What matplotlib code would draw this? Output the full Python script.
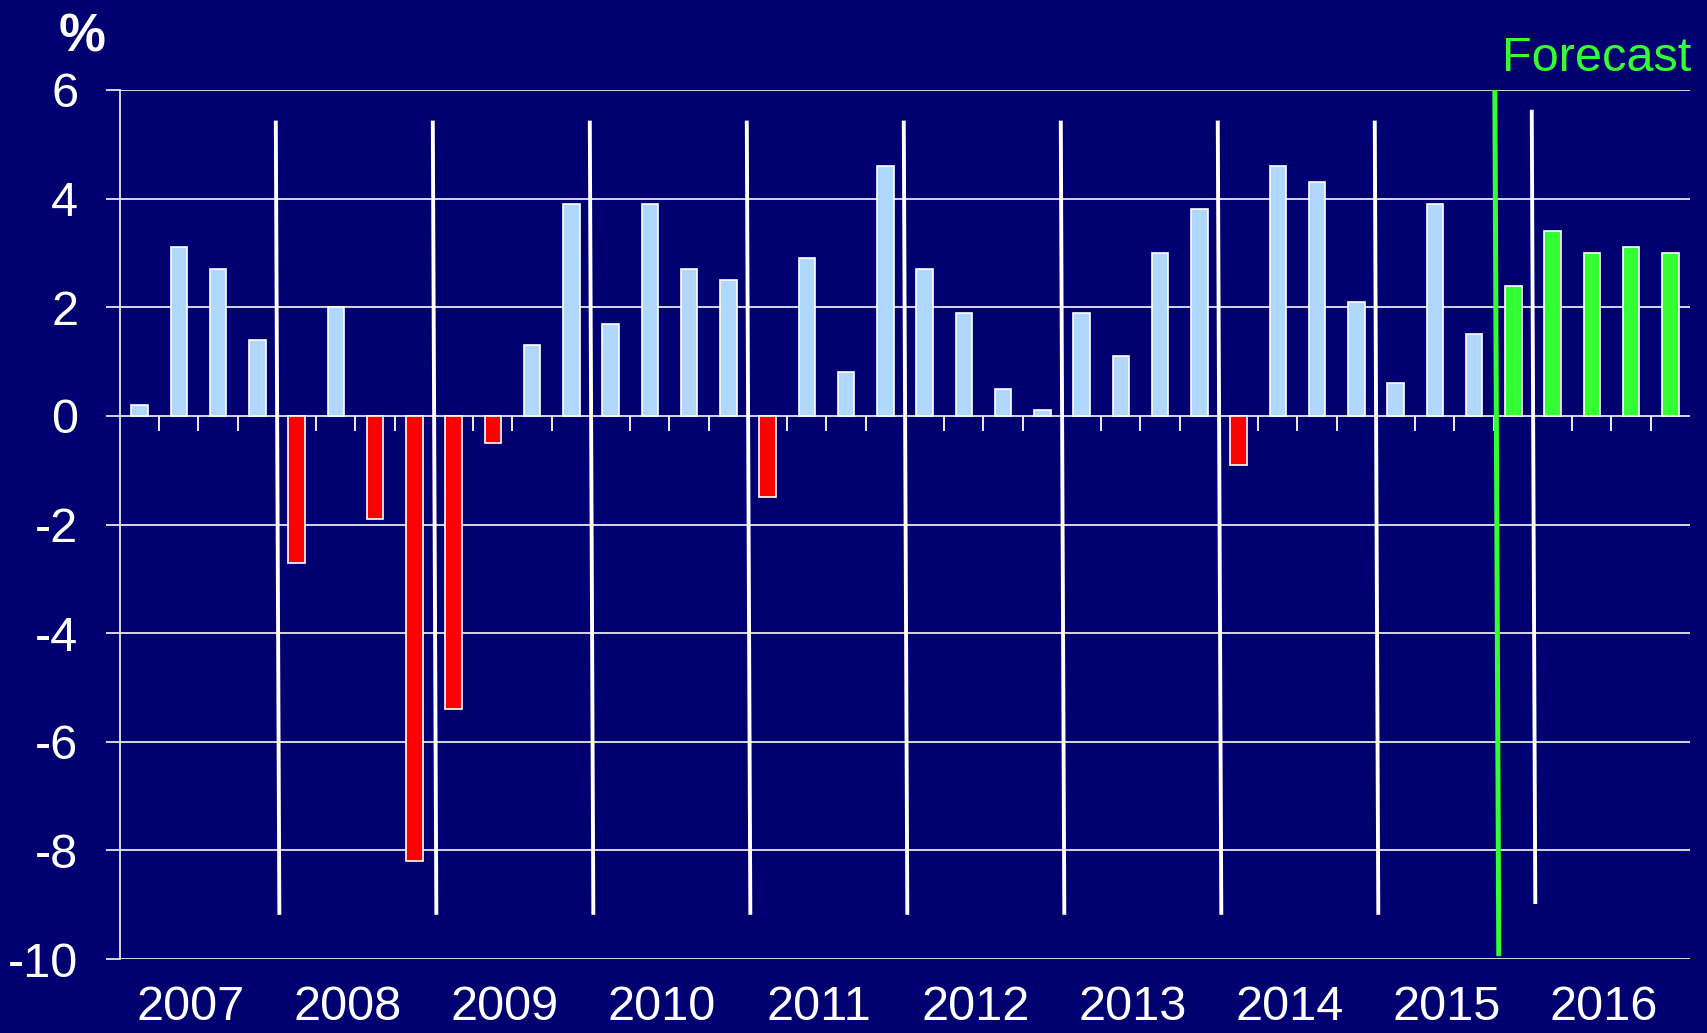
import matplotlib.pyplot as plt

# quarterly GDP growth, % (annualised), 2007 Q1 - 2016 Q4
years = ['2007', '2008', '2009', '2010', '2011', '2012', '2013', '2014', '2015', '2016']
growth = [0.2, 3.1, 2.7, 1.4,
          -2.7, 2.0, -1.9, -8.2,
          -5.4, -0.5, 1.3, 3.9,
          1.7, 3.9, 2.7, 2.5,
          -1.5, 2.9, 0.8, 4.6,
          2.7, 1.9, 0.5, 0.1,
          1.9, 1.1, 3.0, 3.8,
          -0.9, 4.6, 4.3, 2.1,
          0.6, 3.9, 1.5, 2.4,
          3.4, 3.0, 3.1, 3.0]
n_forecast = 5  # last five quarters are forecasts

bg = '#000070'
blue = '#B0D8FF'
red = '#FF0000'
green = '#33FF33'

plt.rcParams['font.family'] = ['Liberation Sans', 'DejaVu Sans']
plt.rcParams['axes.unicode_minus'] = False

fig = plt.figure(figsize=(17.07, 10.33), dpi=100, facecolor=bg)
ax = fig.add_axes([0.0703, 0.0716, 0.9197, 0.8413], facecolor=bg)

n = len(growth)
x = list(range(n))
colors = []
for i, v in enumerate(growth):
    if i >= n - n_forecast:
        colors.append(green)
    elif v < 0:
        colors.append(red)
    else:
        colors.append(blue)

ax.set_axisbelow(True)
ax.bar(x, growth, width=0.42, color=colors, edgecolor='white', linewidth=1.2, zorder=3)

ax.set_xlim(-0.5, n - 0.5)
ax.set_ylim(-10, 6)
ax.set_yticks(range(-10, 7, 2))
ax.yaxis.grid(True, color='#E6E6F0', linewidth=1.3)
ax.tick_params(axis='y', colors='#E6E6F0', length=10, width=1.3, pad=20,
               labelsize=35, labelcolor='white')

for s in ['top', 'right', 'bottom']:
    ax.spines[s].set_visible(False)
ax.spines['left'].set_color('#E6E6F0')
ax.spines['left'].set_linewidth(1.3)

# small ticks below the zero line between quarters
ax.vlines([i + 0.5 for i in range(n - 1)], -0.28, 0, color='white', linewidth=1.3, zorder=2)

# year separators
for k in range(1, len(years)):
    b = 4 * k - 0.5
    last = k == len(years) - 1
    ax.plot([b - 0.03, b + 0.06], [5.6 if last else 5.4, -8.95 if last else -9.15],
            color='white', linewidth=2.8, zorder=4)

# forecast divider
fb = n - n_forecast - 0.5 + 0.03
ax.plot([fb, fb + 0.1], [6, -9.9], color=green, linewidth=3.6, zorder=5)

ax.set_xticks([4 * k + 1.3 for k in range(len(years))])
ax.set_xticklabels(years)
ax.tick_params(axis='x', length=0, pad=19, labelsize=35, labelcolor='white')

fig.text(0.048, 0.964, '%', color='white', fontsize=38, fontweight='bold',
         ha='center', va='center')
fig.text(0.991, 0.931, 'Forecast', color=green, fontsize=35, ha='right', va='baseline')

plt.savefig('out.png', dpi=100, facecolor=bg)
